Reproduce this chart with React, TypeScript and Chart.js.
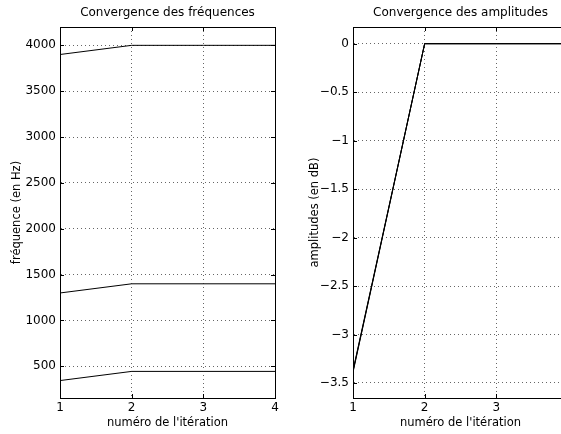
import React, { useEffect, useRef } from "react";
import { Chart, registerables } from "chart.js";

Chart.register(...registerables);

const iterations = [1, 2, 3, 4];
const freq1 = [3900, 4000, 4000, 4000];
const freq2 = [1300, 1400, 1400, 1400];
const freq3 = [345, 445, 445, 445];
const amp1 = [-3.37, 0, 0, 0];
const amp2 = [-3.38, 0, 0, 0];
const amp3 = [-3.39, 0, 0, 0];

const iterTicks = [1, 2, 3, 4];
const freqTicks = [500, 1000, 1500, 2000, 2500, 3000, 3500, 4000];
const ampTicks = [-3.5, -3, -2.5, -2, -1.5, -1, -0.5, 0];

const FONT = "'DejaVu Sans', 'Liberation Sans', Arial, sans-serif";
const TICK_FS = 12;
const LABEL_FS = 11.5;
const TITLE_FS = 12;

const fmt = (v: number) => String(v).replace("-", "\u2212");

const framePlugin = {
  id: "frame",
  afterDraw(chart: any, _args: any, opts: any) {
    const { ctx, chartArea } = chart;
    const { left, right, top, bottom } = chartArea;
    const xs = chart.scales.x;
    const ys = chart.scales.y;
    ctx.save();
    ctx.strokeStyle = "#000";
    ctx.lineWidth = 1;
    ctx.beginPath();
    ctx.moveTo(left, top + 0.5);
    ctx.lineTo(right, top + 0.5);
    ctx.moveTo(right + 0.5, top);
    ctx.lineTo(right + 0.5, bottom);
    const tl = 4;
    xs.ticks.forEach((t: any) => {
      const px = Math.round(xs.getPixelForValue(t.value)) + 0.5;
      ctx.moveTo(px, bottom);
      ctx.lineTo(px, bottom - tl);
      ctx.moveTo(px, top);
      ctx.lineTo(px, top + tl);
    });
    ys.ticks.forEach((t: any) => {
      const py = Math.round(ys.getPixelForValue(t.value)) + 0.5;
      ctx.moveTo(left, py);
      ctx.lineTo(left + tl, py);
      ctx.moveTo(right, py);
      ctx.lineTo(right - tl, py);
    });
    ctx.stroke();
    ctx.fillStyle = "#000";
    ctx.font = `${TITLE_FS}px ${FONT}`;
    ctx.textAlign = "center";
    ctx.textBaseline = "alphabetic";
    ctx.fillText(opts.title, (left + right) / 2, 16);
    ctx.restore();
  },
};

function makeConfig(
  title: string,
  series: number[][],
  yTicks: number[],
  yMin: number,
  yMax: number,
  xTicks: number[],
  yLabel: string,
  yWidth: number,
  yTitlePad: number,
  rightPad: number,
  lineWidth: number
): any {
  return {
    type: "line",
    data: {
      datasets: series.map((s) => ({
        data: iterations.map((x, i) => ({ x, y: s[i] })),
        borderColor: "#000",
        borderWidth: lineWidth,
        pointRadius: 0,
        tension: 0,
        fill: false,
      })),
    },
    options: {
      responsive: false,
      animation: false,
      devicePixelRatio: 1,
      layout: { padding: { top: 27, right: rightPad, left: 0, bottom: 0 } },
      plugins: {
        legend: { display: false },
        tooltip: { enabled: false },
        frame: { title },
      },
      scales: {
        x: {
          type: "linear",
          min: 1,
          max: 4,
          afterBuildTicks: (s: any) => {
            s.ticks = xTicks.map((v) => ({ value: v }));
          },
          afterFit: (s: any) => {
            s.height = 36;
          },
          ticks: {
            color: "#000",
            font: { family: FONT, size: TICK_FS },
            padding: 3,
            maxRotation: 0,
            callback: (v: number) => fmt(v),
          },
          grid: {
            color: "rgba(0,0,0,0.6)",
            drawTicks: false,
            lineWidth: 1,
          },
          border: { display: true, color: "#000", width: 1, dash: [1, 3] },
          title: {
            display: true,
            text: "numéro de l'itération",
            color: "#000",
            font: { family: FONT, size: LABEL_FS },
            padding: { top: 0, bottom: 4 },
          },
        },
        y: {
          type: "linear",
          min: yMin,
          max: yMax,
          afterBuildTicks: (s: any) => {
            s.ticks = yTicks.map((v) => ({ value: v }));
          },
          afterFit: (s: any) => {
            s.width = yWidth;
          },
          ticks: {
            color: "#000",
            font: { family: FONT, size: TICK_FS },
            padding: 4,
            callback: (v: number) => fmt(v),
          },
          grid: {
            color: "rgba(0,0,0,0.6)",
            drawTicks: false,
            lineWidth: 1,
          },
          border: { display: true, color: "#000", width: 1, dash: [1, 3] },
          title: {
            display: true,
            text: yLabel,
            color: "#000",
            font: { family: FONT, size: LABEL_FS },
            padding: { top: yTitlePad, bottom: 0 },
          },
        },
      },
    },
    plugins: [framePlugin],
  };
}

export default function App() {
  const c1 = useRef<HTMLCanvasElement>(null);
  const c2 = useRef<HTMLCanvasElement>(null);

  useEffect(() => {
    const ch1 = new Chart(
      c1.current as HTMLCanvasElement,
      makeConfig(
        "Convergence des fréquences",
        [freq1, freq2, freq3],
        freqTicks,
        155,
        4200,
        iterTicks,
        "fréquence (en Hz)",
        60,
        10.6,
        15,
        1
      )
    );
    const ch2 = new Chart(
      c2.current as HTMLCanvasElement,
      makeConfig(
        "Convergence des amplitudes",
        [amp1, amp2, amp3],
        ampTicks,
        -3.655,
        0.172,
        iterTicks,
        "amplitudes (en dB)",
        63,
        18.1,
        12,
        1
      )
    );
    return () => {
      ch1.destroy();
      ch2.destroy();
    };
  }, []);

  return (
    <div
      style={{
        position: "fixed",
        left: 0,
        top: 0,
        width: 561,
        height: 434,
        overflow: "hidden",
        background: "#fff",
      }}
    >
      <canvas
        ref={c1}
        width={290}
        height={434}
        style={{ position: "absolute", left: 0, top: 0 }}
      />
      <canvas
        ref={c2}
        width={290}
        height={434}
        style={{ position: "absolute", left: 290, top: 0 }}
      />
    </div>
  );
}
